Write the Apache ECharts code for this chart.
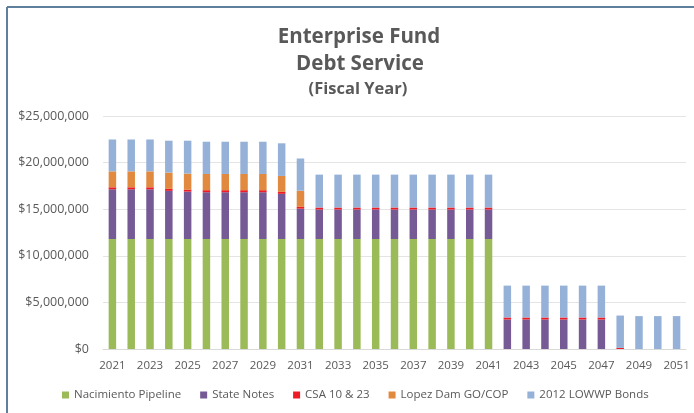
<!DOCTYPE html>
<html>
<head>
<meta charset="utf-8">
<script src="https://cdn.jsdelivr.net/npm/echarts@6/dist/echarts.min.js"></script>
<style>
html,body{margin:0;padding:0;background:#fff;}
#c{width:694px;height:413px;}
</style>
</head>
<body>
<div id="c"></div>
<script>
// ---- data (US dollars) ----
var years = ['2021','2022','2023','2024','2025','2026','2027','2028','2029','2030','2031','2032','2033','2034','2035','2036','2037','2038','2039','2040','2041','2042','2043','2044','2045','2046','2047','2048','2049','2050','2051'];
var nacimientoPipeline = [11800000,11800000,11800000,11800000,11800000,11800000,11800000,11800000,11800000,11800000,11800000,11800000,11800000,11800000,11800000,11800000,11800000,11800000,11800000,11800000,11800000,0,0,0,0,0,0,0,0,0,0];
var stateNotes = [5340000,5340000,5340000,5170000,5090000,5020000,5020000,5020000,5020000,4850000,3260000,3170000,3170000,3170000,3170000,3170000,3170000,3170000,3170000,3170000,3170000,3170000,3170000,3170000,3170000,3170000,3170000,0,0,0,0];
var csa1023 = [210000,210000,210000,210000,220000,220000,220000,220000,220000,210000,190000,210000,210000,210000,210000,210000,210000,210000,210000,210000,210000,210000,210000,210000,210000,210000,210000,120000,0,0,0];
var lopezDam = [1710000,1710000,1710000,1750000,1710000,1740000,1740000,1740000,1740000,1710000,1730000,0,0,0,0,0,0,0,0,0,0,0,0,0,0,0,0,0,0,0,0];
var lowwpBonds = [3420000,3420000,3420000,3420000,3530000,3460000,3460000,3460000,3460000,3500000,3460000,3530000,3530000,3530000,3530000,3530000,3530000,3530000,3530000,3530000,3530000,3420000,3420000,3420000,3420000,3420000,3420000,3470000,3530000,3530000,3530000];
var seriesNames = ['Nacimiento Pipeline','State Notes','CSA 10 & 23','Lopez Dam GO/COP','2012 LOWWP Bonds'];
var yTicks = {min:0, max:25000000, interval:5000000};

var colors = ['#9bbb59','#755a96','#ee1c25','#e1893f','#95b1d8'];
var seriesData = [nacimientoPipeline, stateNotes, csa1023, lopezDam, lowwpBonds];

var chart = echarts.init(document.getElementById('c'), null, {renderer:'canvas'});
var font = '"Open Sans", sans-serif';
var txt = '#595959';

var series = seriesNames.map(function(n,i){
  return {
    name:n, type:'bar', stack:'total', data:seriesData[i],
    barWidth:7.5,
    itemStyle:{color:colors[i]},
    emphasis:{disabled:true}
  };
});

chart.setOption({
  animation:false,
  backgroundColor:'#ffffff',
  color:colors,
  title:[
    {text:'Enterprise Fund', left:354, top:22, textAlign:'center',
     textStyle:{fontFamily:font, fontWeight:'bold', fontSize:20.5, color:txt}},
    {text:'Debt Service', left:355, top:49, textAlign:'center',
     textStyle:{fontFamily:font, fontWeight:'bold', fontSize:20.5, color:txt}},
    {text:'(Fiscal Year)', left:353, top:76, textAlign:'center',
     textStyle:{fontFamily:font, fontWeight:'bold', fontSize:16.5, color:txt}}
  ],
  graphic:[
    {type:'line', shape:{x1:7,y1:7,x2:694,y2:7}, style:{stroke:'#5f809c', lineWidth:2}},
    {type:'line', shape:{x1:7,y1:7,x2:7,y2:413}, style:{stroke:'#5f809c', lineWidth:2}}
  ],
  legend:{
    left:62, top:389, padding:0, itemWidth:7, itemHeight:7, itemGap:19, icon:'rect',
    textStyle:{fontFamily:font, fontSize:11.5, color:txt},
    data:seriesNames
  },
  grid:{left:103, right:8, top:116, bottom:64},
  xAxis:{
    type:'category', data:years,
    axisTick:{show:false},
    axisLine:{lineStyle:{color:'#d9d9d9'}},
    axisLabel:{interval:1, margin:11, fontFamily:font, fontSize:11.5, color:txt}
  },
  yAxis:{
    type:'value', min:yTicks.min, max:yTicks.max, interval:yTicks.interval,
    axisLine:{show:false}, axisTick:{show:false},
    splitLine:{lineStyle:{color:'#e4e4e4'}},
    axisLabel:{margin:14, fontFamily:font, fontSize:12.5, color:txt,
      formatter:function(v){return '$' + v.toLocaleString('en-US');}}
  },
  series:series
});
</script>
</body>
</html>
